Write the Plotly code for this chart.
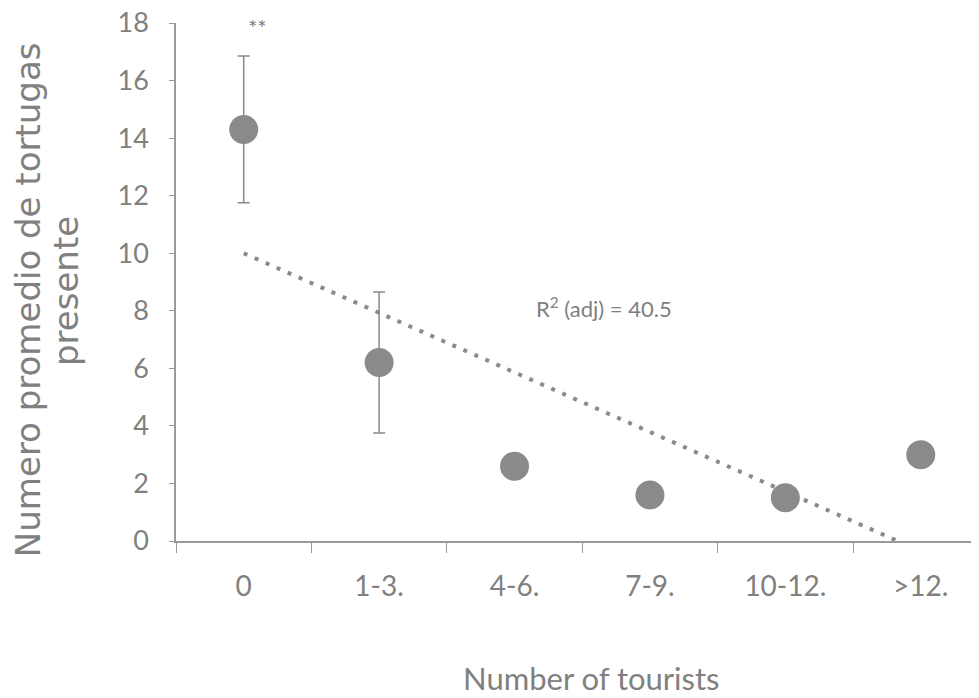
import plotly.graph_objects as go

categories = ["0", "1-3.", "4-6.", "7-9.", "10-12.", ">12."]
means = [14.3, 6.2, 2.6, 1.6, 1.5, 3.0]
errors = [2.55, 2.45, 0, 0, 0, 0]
trend_x = [0, 4.83]
trend_y = [10.0, 0.0]
y_ticks = [0, 2, 4, 6, 8, 10, 12, 14, 16, 18]

gray = "#8a8a8a"
txt = "#808080"
xpos = list(range(len(categories)))

fig = go.Figure()
fig.add_trace(go.Scatter(
    x=trend_x, y=trend_y, mode="lines",
    line=dict(color=gray, width=4, dash="4px,8px"),
    showlegend=False, hoverinfo="skip"))
fig.add_trace(go.Scatter(
    x=xpos, y=means, mode="markers",
    marker=dict(size=29, color=gray),
    error_y=dict(type="data", array=errors, visible=True, color=gray, thickness=1.5, width=6),
    showlegend=False))

# page body has an 8px margin, so margins are offset by 8px to line up with the window
fig.update_layout(
    width=979, height=698,
    margin=dict(l=168, r=8, t=15, b=165),
    paper_bgcolor="white", plot_bgcolor="white",
    font=dict(family="Lato, sans-serif", color=txt),
    xaxis=dict(range=[-0.5, 5.43], tickmode="array", tickvals=xpos, ticktext=categories,
               automargin=False, ticklabeloverflow="allow",
               showgrid=False, zeroline=False, showline=True, linecolor="#9a9a9a", linewidth=1.5,
               ticks="", tickfont=dict(size=28, color=txt), ticklabelstandoff=20,
               minor=dict(tick0=0.5, dtick=1, ticks="outside", ticklen=10, tickcolor="#9a9a9a", showgrid=False)),
    yaxis=dict(range=[0, 18], tickmode="array", tickvals=y_ticks, automargin=False,
               ticklabeloverflow="allow",
               showgrid=False, zeroline=False, showline=True, linecolor="#9a9a9a", linewidth=1.5,
               ticks="outside", ticklen=5, tickcolor="#9a9a9a",
               tickfont=dict(size=27, color=txt), ticklabelstandoff=15),
)

fig.add_annotation(xref="paper", yref="paper", x=-0.1843, y=0.465, textangle=-90,
                   xanchor="center", yanchor="middle",
                   text="Numero promedio de tortugas", showarrow=False,
                   font=dict(family="DejaVu Sans", size=34, color=txt))
fig.add_annotation(xref="paper", yref="paper", x=-0.137, y=0.4826, textangle=-90,
                   xanchor="center", yanchor="middle",
                   text="presente", showarrow=False,
                   font=dict(family="DejaVu Sans", size=34, color=txt))
fig.add_annotation(xref="paper", yref="paper", x=0.517, y=-0.265,
                   xanchor="center", yanchor="middle",
                   text="Number of tourists", showarrow=False,
                   font=dict(family="Lato", size=31, color=txt))
fig.add_annotation(x=2.66, y=8.1, text="R<sup>2</sup> (adj) = 40.5", showarrow=False,
                   font=dict(family="Lato", size=22, color=txt))
fig.add_annotation(x=0.1, y=17.85, text="**", showarrow=False,
                   font=dict(family="Lato", size=22, color=txt))

fig.write_html("out.html")
